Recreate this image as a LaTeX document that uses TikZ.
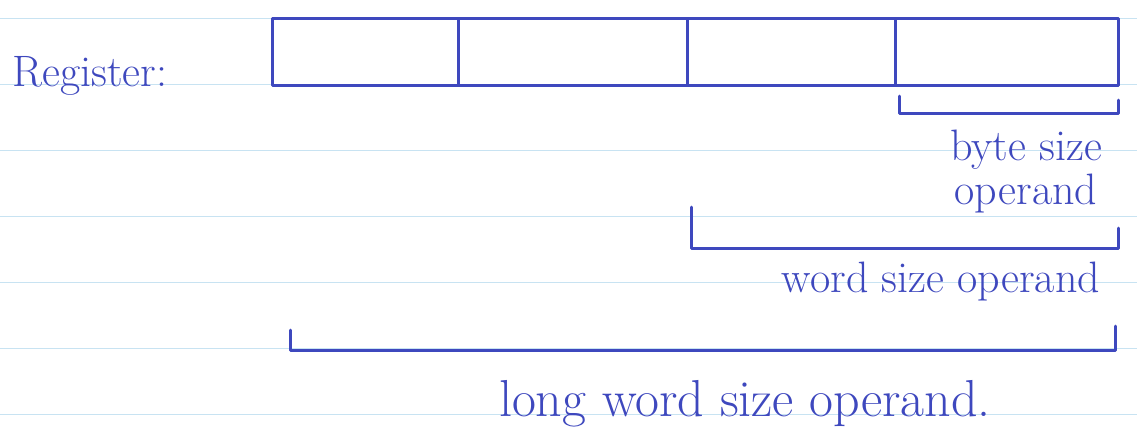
\documentclass[tikz,border=0pt]{standalone}
\usetikzlibrary{positioning}
\definecolor{inkblue}{RGB}{62,72,190}
\definecolor{ruleblue}{RGB}{200,227,242}
\tikzset{
  ink/.style={draw=inkblue, line width=1.5pt, line cap=round, line join=round},
  rule line/.style={draw=ruleblue, line width=0.5pt},
  cell/.style={ink, rectangle, minimum height=33.5pt, inner sep=0pt, outer sep=0pt, anchor=north west},
  hand/.style={text=inkblue, font=\fontsize{22}{22}\selectfont, inner sep=0pt},
}
\begin{document}
\begin{tikzpicture}[x=0.5pt, y=-0.5pt]
    % Paper with ruled lines
    \useasboundingbox (0,0) rectangle (1137,441);
    \fill[white] (0,0) rectangle (1137,441);
    \foreach \y in {18,84,...,414}
      \draw[rule line] (0,\y) -- (1137,\y);

    % Register cells
    \node[cell, minimum width=93pt] (c1) at (272,18) {};
    \node[cell, minimum width=114.5pt, right=0pt of c1] (c2) {};
    \node[cell, minimum width=104pt, right=0pt of c2] (c3) {};
    \node[cell, minimum width=111.5pt, right=0pt of c3] (c4) {};
    \node[hand, anchor=base west] (reg) at (12,86) {Register:};

    % Bracket ends
    \coordinate (byteL) at (899,96);
    \coordinate (byteR) at (1118,100);
    \coordinate (wordL) at (691,207);
    \coordinate (wordR) at (1118,228);
    \coordinate (longL) at (290,330);
    \coordinate (longR) at (1115,326);

    % Brackets
    \draw[ink] (byteL) -- ++(0,17) -| (byteR);
    \draw[ink] (wordL) -- ++(0,41) -| (wordR);
    \draw[ink] (longL) -- ++(0,20) -| (longR);

    % Labels
    \node[hand, align=center] (bytelbl) at (1026,172) {byte size\\operand};
    \node[hand] (wordlbl) at (941,282) {word size operand};
    \node[hand, font=\fontsize{26}{26}\selectfont] (longlbl) at (745,404) {long word size operand.};
\end{tikzpicture}
\end{document}
